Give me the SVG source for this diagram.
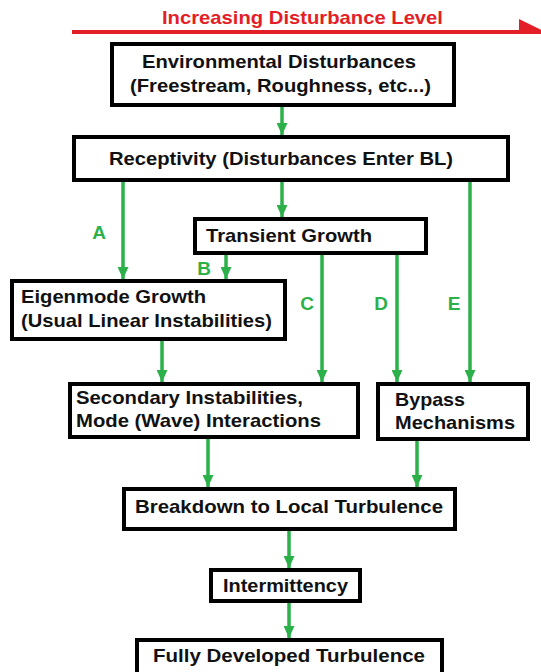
<svg xmlns="http://www.w3.org/2000/svg" width="541" height="672" viewBox="0 0 541 672">
<style>
.box{fill:#fff;stroke:#000;stroke-width:4}
.t{font-family:"Liberation Sans",Arial,sans-serif;font-weight:bold;font-size:19px;fill:#111}
.lbl{font-family:"Liberation Sans",Arial,sans-serif;font-weight:bold;font-size:19px;fill:#2bb04a;text-anchor:middle}
.c{stroke:#2bb04a;stroke-width:3.5;fill:none;marker-end:url(#ah)}
</style>
<defs>
<marker id="ah" markerUnits="userSpaceOnUse" markerWidth="12" markerHeight="11" viewBox="0 0 12 11" refX="12" refY="5.5" orient="auto">
<path d="M0,0 L12,5.5 L0,11 Z" fill="#2bb04a"/>
</marker>
</defs>
<rect width="541" height="672" fill="#fff"/>
<g id="disturbance-axis">
<line x1="72" y1="32" x2="522" y2="32" stroke="#e41e26" stroke-width="4"/>
<polygon points="519,19 550,34 519,34" fill="#e41e26"/>
<text x="162" y="24" font-family="Liberation Sans, Arial, sans-serif" font-weight="bold" font-size="19" fill="#e41e26" textLength="281" lengthAdjust="spacingAndGlyphs">Increasing Disturbance Level</text>
</g>
<g id="connectors">
<line class="c" x1="282" y1="107" x2="282" y2="135"/>
<line class="c" x1="282" y1="182" x2="282" y2="217"/>
<line class="c" x1="123" y1="182" x2="123" y2="279"/>
<line class="c" x1="226" y1="255" x2="226" y2="279"/>
<line class="c" x1="322" y1="255" x2="322" y2="382"/>
<line class="c" x1="397" y1="255" x2="397" y2="382"/>
<line class="c" x1="470" y1="182" x2="470" y2="382"/>
<line class="c" x1="162" y1="341" x2="162" y2="382"/>
<line class="c" x1="208" y1="439" x2="208" y2="487"/>
<line class="c" x1="417" y1="441" x2="417" y2="487"/>
<line class="c" x1="289" y1="531" x2="289" y2="568"/>
<line class="c" x1="289" y1="603" x2="289" y2="638"/>
<text class="lbl" x="99" y="239">A</text>
<text class="lbl" x="204" y="275">B</text>
<text class="lbl" x="307" y="310">C</text>
<text class="lbl" x="381" y="310">D</text>
<text class="lbl" x="454" y="310">E</text>
</g>
<g id="environmental">
<rect class="box" x="112" y="44" width="342" height="61"/>
<text class="t" x="142" y="68" textLength="274" lengthAdjust="spacingAndGlyphs">Environmental Disturbances</text>
<text class="t" x="130" y="92" textLength="301" lengthAdjust="spacingAndGlyphs">(Freestream, Roughness, etc...)</text>
</g>
<g id="receptivity">
<rect class="box" x="74" y="137" width="434" height="43"/>
<text class="t" x="109" y="165" textLength="344" lengthAdjust="spacingAndGlyphs">Receptivity (Disturbances Enter BL)</text>
</g>
<g id="transient">
<rect class="box" x="195" y="219" width="231" height="34"/>
<text class="t" x="206" y="242" textLength="166" lengthAdjust="spacingAndGlyphs">Transient Growth</text>
</g>
<g id="eigenmode">
<rect class="box" x="12" y="281" width="273" height="58"/>
<text class="t" x="21" y="303" textLength="185" lengthAdjust="spacingAndGlyphs">Eigenmode Growth</text>
<text class="t" x="21" y="327" textLength="251" lengthAdjust="spacingAndGlyphs">(Usual Linear Instabilities)</text>
</g>
<g id="secondary">
<rect class="box" x="70" y="384" width="288" height="53"/>
<text class="t" x="76" y="404" textLength="227" lengthAdjust="spacingAndGlyphs">Secondary Instabilities,</text>
<text class="t" x="76" y="427" textLength="245" lengthAdjust="spacingAndGlyphs">Mode (Wave) Interactions</text>
</g>
<g id="bypass">
<rect class="box" x="378" y="384" width="150" height="55"/>
<text class="t" x="395" y="406" textLength="70" lengthAdjust="spacingAndGlyphs">Bypass</text>
<text class="t" x="395" y="429" textLength="120" lengthAdjust="spacingAndGlyphs">Mechanisms</text>
</g>
<g id="breakdown">
<rect class="box" x="124" y="489" width="331" height="40"/>
<text class="t" x="135" y="513" textLength="308" lengthAdjust="spacingAndGlyphs">Breakdown to Local Turbulence</text>
</g>
<g id="intermittency">
<rect class="box" x="211" y="570" width="149" height="31"/>
<text class="t" x="223" y="592" textLength="125" lengthAdjust="spacingAndGlyphs">Intermittency</text>
</g>
<g id="fully-developed">
<rect class="box" x="137" y="640" width="305" height="40"/>
<text class="t" x="153" y="662" textLength="272" lengthAdjust="spacingAndGlyphs">Fully Developed Turbulence</text>
</g>
</svg>
